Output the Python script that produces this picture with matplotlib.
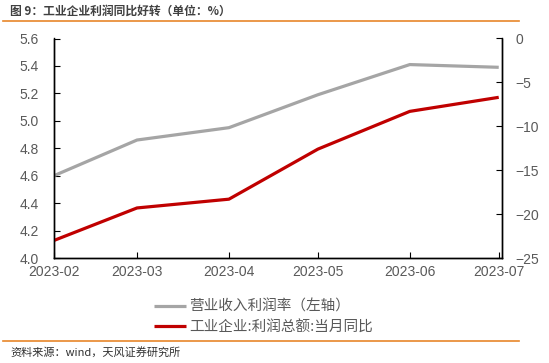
import matplotlib
matplotlib.use("Agg")
import matplotlib.pyplot as plt
import matplotlib.dates as mdates
from matplotlib.lines import Line2D
import numpy as np
import datetime as dt

plt.rcParams['font.family'] = ['Liberation Sans', 'Noto Sans CJK SC', 'DejaVu Sans']

months = ["2023-02", "2023-03", "2023-04", "2023-05", "2023-06", "2023-07"]
margin = [4.60, 4.86, 4.95, 5.19, 5.41, 5.39]          # 营业收入利润率（左轴）
profit_yoy = [-23.0, -19.3, -18.3, -12.6, -8.3, -6.7]  # 工业企业:利润总额:当月同比
label_margin = "营业收入利润率（左轴）"
label_profit = "工业企业:利润总额:当月同比"
title = "图 9：工业企业利润同比好转（单位：%）"
source = "资料来源：wind，天风证券研究所"

dates = [dt.datetime.strptime(m + "-01", "%Y-%m-%d") for m in months]

fig = plt.figure(figsize=(5.49, 3.63), dpi=100)
ax = fig.add_axes([54/549, 1-258/363, (501.7-54)/549, (258-38.5)/363])
ax2 = ax.twinx()

gray = "#A5A5A5"
red = "#C00000"
l1, = ax.plot(dates, margin, color=gray, lw=2.3, solid_capstyle='butt')
l2, = ax2.plot(dates, profit_yoy, color=red, lw=2.3, solid_capstyle='butt')

ax.set_ylim(4.0, 5.6)
ax.set_yticks(np.arange(4.0, 5.61, 0.2))
ax.set_yticklabels([f"{v:.1f}" for v in np.arange(4.0, 5.61, 0.2)])
ax2.set_ylim(-25, 0)
ax2.set_yticks(np.arange(-25, 1, 5))
ax2.set_yticklabels([("\u2212" + str(abs(v))) if v < 0 else str(v) for v in np.arange(-25, 1, 5)])

ax.set_xlim(dates[0], dates[-1] + dt.timedelta(days=1))
ax.set_xticks(dates)
ax.xaxis.set_major_formatter(mdates.DateFormatter("%Y-%m"))

tc = "#595959"
for a in (ax, ax2):
    for s in a.spines.values():
        s.set_color("black")
        s.set_linewidth(1.0)
    a.spines['top'].set_visible(False)
ax.tick_params(axis='y', direction='in', length=4, labelsize=10, labelcolor=tc, pad=11, color='black')
ax.tick_params(axis='x', direction='in', length=4, labelsize=10, labelcolor=tc, pad=5, color='black')
ax2.tick_params(axis='y', direction='in', length=4, labelsize=10, labelcolor=tc, pad=10, color='black')

# title and header line
fig.text(10/549, 1-11/363, title, fontsize=8.5, fontweight='bold', color="#404040",
         va='center', ha='left', family=['Noto Sans CJK SC', 'DejaVu Sans'])
orange = "#E8862A"
fig.add_artist(Line2D([3/549, 519/549], [1-21/363, 1-21/363], color=orange, lw=1.2, transform=fig.transFigure))
fig.add_artist(Line2D([3/549, 519/549], [1-341/363, 1-341/363], color=orange, lw=1.2, transform=fig.transFigure))
fig.text(10/549, 1-352/363, source, fontsize=8, color="#303030", va='center', ha='left',
         family=['Noto Sans CJK SC', 'DejaVu Sans'])

leg = fig.legend([l1, l2], [label_margin, label_profit], loc='center left',
                 bbox_to_anchor=(141/549, 1-317/363), frameon=False, handlelength=2.2,
                 handletextpad=0.2, labelspacing=0.45,
                 prop={'family': ['Noto Sans CJK SC', 'DejaVu Sans'], 'size': 10.5})
for t in leg.get_texts():
    t.set_color(tc)

fig.savefig("out.png", dpi=100)
